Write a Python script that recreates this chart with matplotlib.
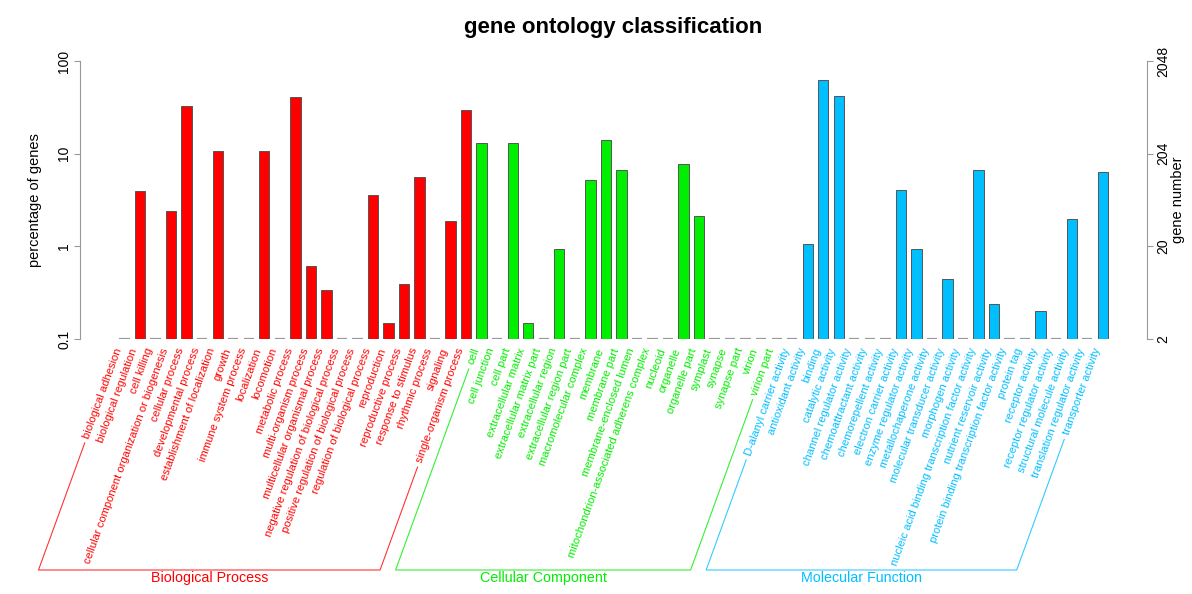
import numpy as np
import matplotlib
matplotlib.use('Agg')
import matplotlib.pyplot as plt
from matplotlib.lines import Line2D

# GO terms and percentage of genes (0 = no genes)
bp_terms = ['biological adhesion', 'biological regulation', 'cell killing',
            'cellular component organization or biogenesis', 'cellular process',
            'developmental process', 'establishment of localization', 'growth',
            'immune system process', 'localization', 'locomotion', 'metabolic process',
            'multi-organism process', 'multicellular organismal process',
            'negative regulation of biological process',
            'positive regulation of biological process',
            'regulation of biological process', 'reproduction', 'reproductive process',
            'response to stimulus', 'rhythmic process', 'signaling',
            'single-organism process']
bp_pct = [0, 4.0, 0, 2.4, 33.0, 0, 10.7, 0, 0, 10.7, 0, 41.2, 0.62, 0.34, 0, 0,
          3.6, 0.15, 0.39, 5.6, 0, 1.9, 29.4]

cc_terms = ['cell', 'cell junction', 'cell part', 'extracellular matrix',
            'extracellular matrix part', 'extracellular region',
            'extracellular region part', 'macromolecular complex', 'membrane',
            'membrane part', 'membrane-enclosed lumen',
            'mitochondrion-associated adherens complex', 'nucleoid', 'organelle',
            'organelle part', 'symplast', 'synapse', 'synapse part', 'virion',
            'virion part']
cc_pct = [12.9, 0, 12.9, 0.15, 0, 0.93, 0, 5.2, 14.0, 6.6, 0, 0, 0, 7.7, 2.1,
          0, 0, 0, 0, 0]

mf_terms = ['D-alanyl carrier activity', 'antioxidant activity', 'binding',
            'catalytic activity', 'channel regulator activity',
            'chemoattractant activity', 'chemorepellent activity',
            'electron carrier activity', 'enzyme regulator activity',
            'metallochaperone activity', 'molecular transducer activity',
            'morphogen activity', 'nucleic acid binding transcription factor activity',
            'nutrient reservoir activity',
            'protein binding transcription factor activity', 'protein tag',
            'receptor activity', 'receptor regulator activity',
            'structural molecule activity', 'translation regulator activity',
            'transporter activity']
mf_pct = [0, 1.05, 62.0, 41.5, 0, 0, 0, 4.1, 0.93, 0, 0.44, 0, 6.7, 0.24, 0, 0,
          0.2, 0, 1.95, 0, 6.3]

group_names = ['Biological Process', 'Cellular Component', 'Molecular Function']
group_colors = ['#FF0000', '#00EE00', '#00BFFF']

pct_ticks = [0.1, 1, 10, 100]
pct_labels = ['0.1', '1', '10', '100']
num_labels = ['2', '20', '204', '2048']

W, H = 1192, 594
ANG = 70.0

plt.rcParams['font.family'] = ['Liberation Sans', 'DejaVu Sans']

fig = plt.figure(figsize=(W / 100, H / 100), dpi=100)
ax = fig.add_axes([80 / W, 1 - 339 / H, (1147 - 80) / W, (339 - 61) / H])
ax.set_yscale('log')

groups = [(bp_terms, bp_pct), (cc_terms, cc_pct), (mf_terms, mf_pct)]
firstlast = []
x0 = 0
for (terms, pct), color in zip(groups, group_colors):
    xs = np.arange(x0, x0 + len(terms))
    vals = np.array(pct, dtype=float)
    nz = vals > 0
    ax.bar(xs[nz], vals[nz] - 0.1, bottom=0.1, width=0.667, color=color,
           edgecolor='#555555', linewidth=0.7)
    ax.bar(xs[~nz], np.zeros((~nz).sum()), bottom=0.1, width=0.667,
           color='none', edgecolor='#999999', linewidth=1.6)
    anns = []
    for x, t in zip(xs, terms):
        a = ax.annotate(t, xy=(x, 0.1), xytext=(-3.9, -6.8), textcoords='offset points',
                        rotation=ANG, rotation_mode='anchor', ha='right', va='center',
                        color=color, fontsize=8, annotation_clip=False)
        anns.append(a)
    firstlast.append((xs[0], anns[0], xs[-1], anns[-1]))
    x0 += len(terms)

ax.set_ylim(0.1, 100)
ax.set_xlim(-2.87, 65.85)
ax.set_xticks([])
ax.set_yticks(pct_ticks, labels=pct_labels)
ax.minorticks_off()
for s in ['top', 'bottom', 'right']:
    ax.spines[s].set_visible(False)
ax.spines['left'].set_color('#999999')
ax.tick_params(axis='y', labelrotation=90, length=4.3, color='#999999', pad=2,
               labelsize=10)
for lbl in ax.get_yticklabels():
    lbl.set_va('center')
ax.set_ylabel('percentage of genes', fontsize=10.5)
ax.yaxis.set_label_coords((42 - 80) / 1067, 0.5)

ax2 = ax.twinx()
ax2.set_yscale('log')
ax2.set_ylim(0.1, 100)
ax2.set_yticks(pct_ticks, labels=num_labels)
ax2.minorticks_off()
for s in ['top', 'bottom', 'left']:
    ax2.spines[s].set_visible(False)
ax2.spines['right'].set_color('#999999')
ax2.tick_params(axis='y', labelrotation=90, length=4.3, color='#999999', pad=2,
                labelsize=10)
for lbl in ax2.get_yticklabels():
    lbl.set_va('center')
ax2.set_ylabel('gene number', fontsize=10.5)
ax2.yaxis.set_label_coords((1171 - 80) / 1067, 0.5)

fig.text(613.5 / W, 1 - 28 / H, 'gene ontology classification', ha='center',
         va='center', fontsize=16, fontweight='bold')

# group brackets drawn along the label direction
fig.canvas.draw()
renderer = fig.canvas.get_renderer()
t = np.tan(np.radians(ANG))
y_br = H - 570
for (xa, a0, xb, a1), name, color in zip(firstlast, group_names, group_colors):
    pts = []
    for x, a in [(xa, a0), (xb, a1)]:
        px, py = ax.transData.transform((x, 0.1))
        px -= 2
        y_top = a.get_window_extent(renderer).y0 - 3
        pts.append(((px - (py - y_top) / t, y_top), (px - (py - y_br) / t, y_br)))
    (l_top, l_bot), (r_top, r_bot) = pts
    xs_line = [l_top[0], l_bot[0], r_bot[0], r_top[0]]
    ys_line = [l_top[1], l_bot[1], r_bot[1], r_top[1]]
    fig.add_artist(Line2D(np.array(xs_line) / W, np.array(ys_line) / H,
                          color=color, linewidth=0.8, alpha=0.8,
                          transform=fig.transFigure))
    fig.text((l_bot[0] + r_bot[0]) / 2 / W, (y_br - 1) / H, name, ha='center',
             va='top', color=color, fontsize=10.3)

fig.savefig('out.png', dpi=100)
